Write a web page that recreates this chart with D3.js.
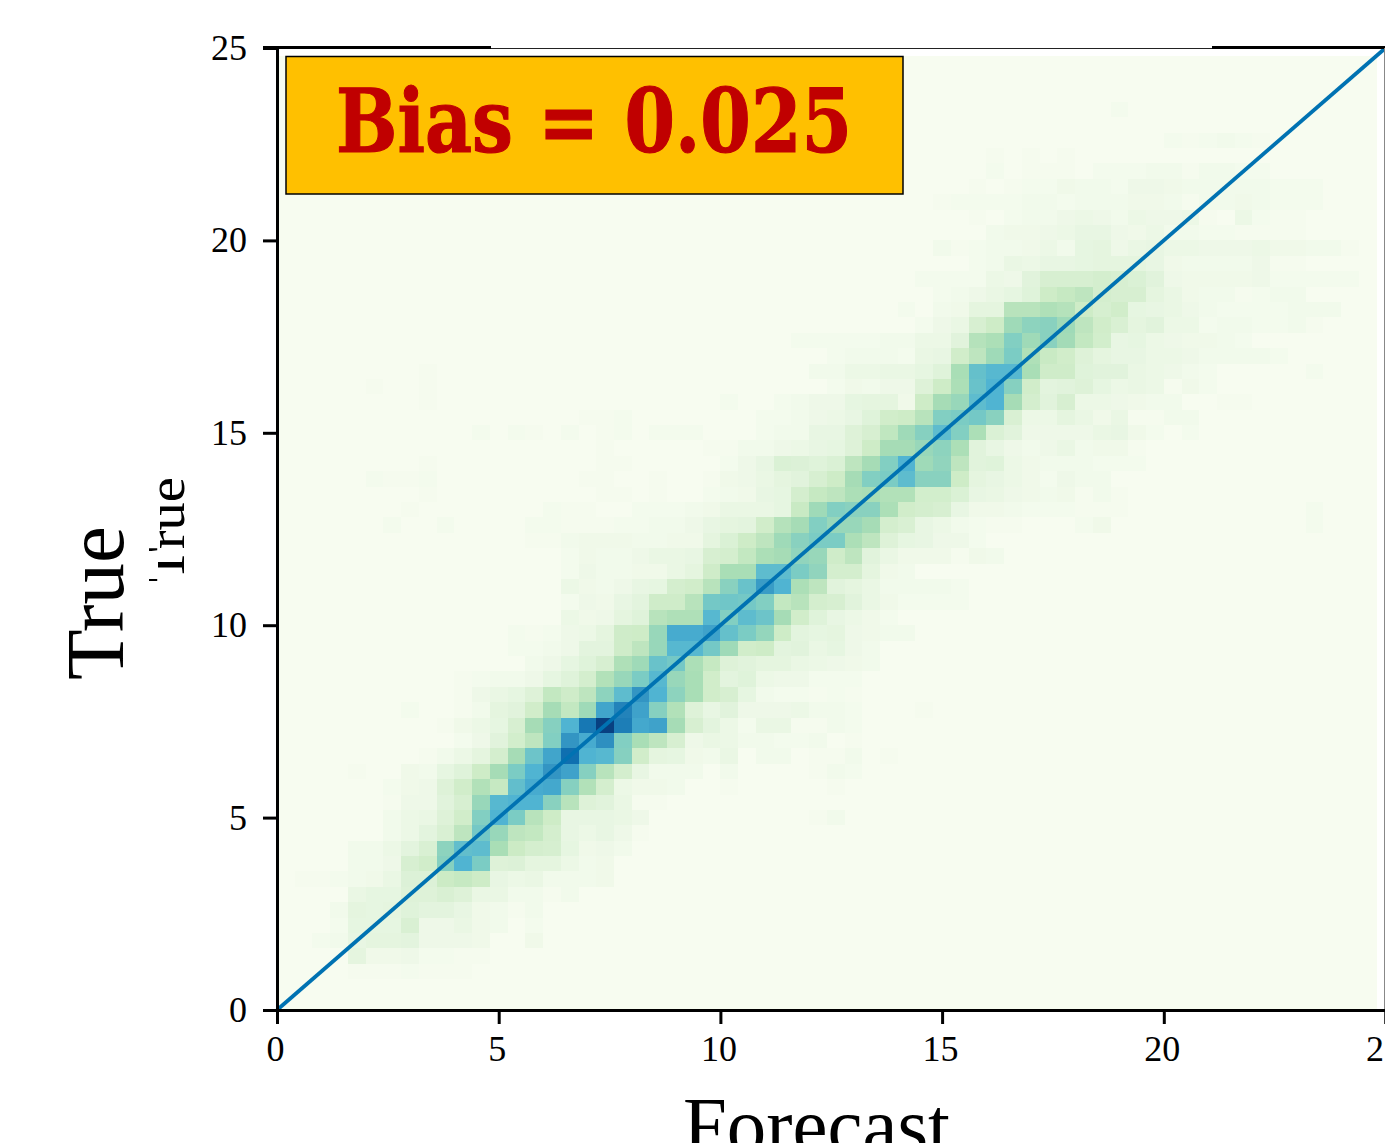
<!DOCTYPE html>
<html lang="en">
<head>
<meta charset="utf-8">
<title>Bias heatmap</title>
<script src="https://d3js.org/d3.v7.min.js"></script>
<style>
  body { margin: 0; background: #fff; }
  svg { display: block; }
  .tick text { font-family: "Liberation Serif", serif; font-size: 36px; fill: #000; }
  .label { font-family: "Liberation Serif", serif; fill: #000; }
  .bias { font-family: "DejaVu Serif"; font-weight: 700; fill: #c00000; stroke: #c00000; stroke-width: 1.2px; }
</style>
</head>
<body>
<div id="chart"></div>
<script>
const width = 1385, height = 1143
const tickValues = [0, 5, 10, 15, 20, 25]
const binSize = 0.4
const binCount = 62
const diagonal = [0, 25]
const biasText = "Bias = 0.025"
const xTitle = "Forecast"
const yTitle = "True"

// first filled column of each row, row 0 is the bottom one
const rowStart = [0,0,4,4,2,3,3,4,1,4,4,6,6,6,6,4,8,10,9,7,10,10,14,13,13,16,16,16,16,16,14,6,7,8,5,8,18,11,17,8,5,8,31,29,36,35,36,36,39,37,40,39,37,39,40,40,50,0,47,0,0,0]
// 0-100 along the colour map
const rowValues = [
  [],
  [],
  [1,1,1,2,1,1,1],
  [10,4,4,5,2,2,1,1],
  [2,3,8,10,10,11,5,5,5,4,0,0,4],
  [2,9,9,9,17,5,5,7,4,3,0,2],
  [3,10,9,10,13,11,11,8,4,3,1,3],
  [7,9,9,14,14,17,14,7,7,3,3,1,3],
  [1,1,2,3,4,7,15,15,25,27,24,8,6,7,3,3,3,4],
  [3,3,5,18,22,47,62,50,14,15,10,10,6,3,4],
  [3,3,6,11,17,45,57,58,37,25,20,19,9,4,5,3],
  [3,6,11,17,30,52,42,30,28,20,8,6,8,5,1],
  [3,6,7,14,22,48,62,50,32,24,8,8,8,7,5,0,0,0,0,0,0,0,0,0,1,3],
  [1,5,5,12,18,42,60,62,62,46,32,14,12,7,1,1],
  [2,4,5,14,22,34,27,57,65,66,47,34,20,6,4,4,3,0,0,1,0,0,0,0,0,1],
  [1,0,0,4,3,9,13,24,38,50,62,72,68,47,32,20,8,3,3,3,0,3,0,0,0,0,1,3,2],
  [1,3,6,10,20,38,54,67,85,62,60,47,22,10,9,4,3,7,0,3,3,0,1,1,3,0,1],
  [2,5,12,21,30,48,72,65,74,48,37,30,18,5,7,6,3,3,2,2,3,0,1],
  [1,4,6,9,18,38,47,62,82,100,80,66,68,38,18,11,6,2,7,7,1,1,3,2],
  [2,0,0,1,3,10,12,22,38,28,40,67,78,68,47,34,14,8,12,5,5,5,6,3,3,2,0,0,0,1],
  [1,5,7,9,14,28,23,30,45,58,72,62,45,37,22,18,9,3,2,2,1,2,1],
  [1,2,3,3,5,9,13,20,34,42,50,60,42,37,22,11,13,6,5,5,2,2,2],
  [3,5,9,13,18,35,40,55,52,36,27,14,12,10,10,7,6,5,4,3],
  [2,2,3,5,11,11,23,30,42,60,60,52,40,22,24,11,12,7,9,5,3],
  [2,1,2,5,6,10,23,24,42,65,65,68,56,50,43,24,11,9,10,5,4,3,3],
  [6,4,5,10,13,32,35,35,60,48,58,54,38,22,13,8,6,4,2],
  [2,5,4,8,11,23,23,32,52,53,52,48,28,32,20,18,12,7,4,2,2,2,2],
  [6,4,3,5,8,9,20,22,32,46,55,70,62,36,30,12,10,7,3,3,3,3,2],
  [2,5,3,3,4,4,7,10,23,37,37,58,58,50,44,20,20,10,4,3],
  [2,4,3,3,5,7,7,8,18,20,28,36,38,44,42,23,30,12,7,4,4,4,1,4,3],
  [1,1,3,4,4,4,3,3,4,4,10,16,24,30,40,46,50,50,36,30,14,9,8,5,5,2],
  [2,0,0,2,0,0,0,0,2,2,1,1,1,2,2,3,3,5,8,10,11,22,33,38,48,42,42,38,20,17,8,6,3,2,1,1,0,0,0,2,4,0,0,0,0,0,0,0,0,0,0,0,2],
  [1,0,0,0,0,0,0,0,2,1,1,0,0,2,2,2,3,4,7,7,7,9,26,40,48,46,46,36,22,20,18,8,4,4,3,2,2,2,1,1,1,0,0,0,0,0,0,0,0,0,0,2],
  [1,0,0,0,0,0,0,0,0,0,1,1,0,1,0,0,2,3,4,8,9,20,27,30,36,37,34,34,21,21,16,8,7,5,4,3,4,1,3,1],
  [2,1,1,2,0,0,0,0,0,0,0,0,1,1,0,0,1,0,0,1,4,5,7,10,12,18,24,38,48,50,58,46,46,24,10,8,6,4,2,5,3,3],
  [1,0,0,0,0,0,0,0,0,0,1,1,0,0,0,0,0,2,5,8,16,15,13,16,30,38,48,62,40,44,30,12,13,6,4,3,3,3,2,2,2],
  [1,0,0,0,0,0,1,1,3,3,5,6,8,9,14,24,38,38,42,45,36,12,8,5,3,5,7,3,4,4,1],
  [2,0,2,1,0,2,0,1,2,0,2,2,2,0,0,0,2,3,3,8,8,14,18,29,40,47,58,48,36,16,12,5,5,5,5,7,8,4,2,0,2],
  [1,1,2,0,0,0,0,0,0,0,2,2,3,5,6,8,13,22,24,32,48,50,52,46,17,6,6,10,7,4,7,1,1,3,3],
  [1,0,0,0,0,0,0,0,0,0,0,0,0,0,0,0,0,2,0,0,2,3,5,5,9,10,10,4,24,38,42,58,62,38,20,12,18,6,6,5,4,3,3,0,0,1,1],
  [1,0,0,1,0,0,0,0,0,0,0,0,0,0,0,0,0,0,0,0,0,0,0,0,0,0,2,4,3,5,5,14,24,36,55,62,47,22,11,12,14,9,6,7,6,1,4,2],
  [1,0,0,0,0,0,0,0,0,0,0,0,0,0,0,0,0,0,0,0,0,0,3,3,6,6,7,7,9,13,37,56,60,60,37,23,23,13,12,12,7,6,5,3,2,0,0,0,0,0,2],
  [2,3,3,3,2,7,8,22,30,40,50,35,26,22,14,10,8,8,6,6,5,3,3,3,3,2],
  [2,2,2,2,2,3,3,6,6,12,33,36,48,40,46,39,28,21,8,9,6,5,4,4,3,2],
  [2,5,7,18,24,40,45,46,40,30,22,17,10,12,6,6,2,3,3,2,2,3,1],
  [2,0,3,4,10,10,32,32,35,33,24,19,22,9,8,7,5,3,2,2,2,2,3,3,3],
  [0,2,3,5,7,9,13,24,27,30,20,18,18,10,7,4,3,3,1,2,3,3],
  [2,2,2,2,6,5,12,18,18,18,20,18,16,12,5,4,4,4,4,5,2,2,2,2,2],
  [2,3,7,6,8,8,9,10,10,10,8,4,3,3,3,3,5,1,1],
  [3,1,2,3,3,4,6,3,9,10,5,7,8,6,6,5,5,5,6,4,4,3,3,1],
  [3,4,4,5,6,8,8,5,4,6,3,3,2,2,1,1,1,1],
  [1,0,2,3,3,5,6,5,3,6,5,5,6,1,0,6,2,1,1],
  [1,2,2,2,2,3,3,2,3,3,3,4,4,3,1,3,3,4,3,2,2,2],
  [1,0,1,2,2,4,3,3,2,5,5,4,3,3,3,3,3,2,2,2],
  [2,0,1,1,1,0,2,2,2,3,3,1,3,3,2,2],
  [1,0,1,0,1],
  [2,1,2,3,2,1],
  [],
  [2],
  [],
  [],
  []
]

const x = d3.scaleLinear().domain([0, 25]).range([277, 1385.5])
const y = d3.scaleLinear().domain([0, 25]).range([1010, 48])

// matplotlib GnBu has the same nine stops, joined linearly
const color = d3.scaleLinear()
  .domain(d3.range(9).map(i => i * 12.5))
  .range(d3.schemeGnBu[9])

const svg = d3.select("#chart").append("svg")
  .attr("width", width)
  .attr("height", height)

const cells = []
d3.range(binCount).forEach(row => {
  d3.range(binCount).forEach(col => {
    const v = rowValues[row][col - rowStart[row]] || 0
    cells.push({ row, col, v })
  })
})

svg.append("g")
  .attr("shape-rendering", "crispEdges")
  .selectAll("rect")
  .data(cells)
  .join("rect")
  .attr("x", d => x(d.col * binSize))
  .attr("y", d => y((d.row + 1) * binSize))
  .attr("width", d => x((d.col + 1) * binSize) - x(d.col * binSize))
  .attr("height", d => y(d.row * binSize) - y((d.row + 1) * binSize))
  .attr("fill", d => color(d.v))

svg.append("line")
  .attr("x1", x(diagonal[0])).attr("y1", y(diagonal[0]))
  .attr("x2", x(diagonal[1])).attr("y2", y(diagonal[1]))
  .attr("stroke", "#0072b2")
  .attr("stroke-width", 3.8)

// top spine: heavy at both ends, hairline between, right spine is grey
svg.append("line").attr("x1", 491).attr("x2", 1212).attr("y1", 48.5).attr("y2", 48.5)
  .attr("stroke", "#222").attr("stroke-width", 1)
svg.append("line").attr("x1", 263).attr("x2", 491).attr("y1", 47.5).attr("y2", 47.5)
  .attr("stroke", "#000").attr("stroke-width", 3)
svg.append("line").attr("x1", 1212).attr("x2", 1385).attr("y1", 47.5).attr("y2", 47.5)
  .attr("stroke", "#000").attr("stroke-width", 3)
svg.append("line").attr("x1", 1384.5).attr("x2", 1384.5).attr("y1", 48).attr("y2", 1010)
  .attr("stroke", "#888").attr("stroke-width", 1)

const xAxis = svg.append("g")
  .attr("transform", "translate(0,1010)")
  .call(d3.axisBottom(x).tickValues(tickValues).tickSize(14).tickPadding(11).tickFormat(d3.format("d")))
const yAxis = svg.append("g")
  .attr("transform", "translate(277,0)")
  .call(d3.axisLeft(y).tickValues(tickValues).tickSize(14).tickPadding(16).tickFormat(d3.format("d")))
;[xAxis, yAxis].forEach(a => {
  a.selectAll("path").attr("stroke", "#000").attr("stroke-width", 3)
  a.selectAll("line").attr("stroke", "#000").attr("stroke-width", 3)
  a.selectAll("text").attr("font-family", null).attr("font-size", null)
})
xAxis.selectAll("text").attr("dx", -2)

svg.append("text").attr("class", "label")
  .attr("x", 683).attr("y", 1153)
  .attr("font-size", 80)
  .attr("textLength", 267).attr("lengthAdjust", "spacingAndGlyphs")
  .text(xTitle)

svg.append("text").attr("class", "label")
  .attr("transform", "translate(123,680) rotate(-90)")
  .attr("font-size", 83)
  .text(yTitle)

// the second, smaller title sits behind a white patch that hides the bar of its T
svg.append("text").attr("class", "label")
  .attr("transform", "translate(184,582) rotate(-90)")
  .attr("font-size", 52)
  .attr("textLength", 105).attr("lengthAdjust", "spacingAndGlyphs")
  .text(yTitle)
svg.append("rect")
  .attr("x", 148).attr("y", 551)
  .attr("width", 10).attr("height", 28)
  .attr("fill", "#fff")

svg.append("rect")
  .attr("x", 286).attr("y", 56.5)
  .attr("width", 617).attr("height", 137.5)
  .attr("fill", "#ffc000")
  .attr("stroke", "#000")
  .attr("stroke-width", 1.5)

svg.append("text").attr("class", "bias")
  .attr("x", 336).attr("y", 152)
  .attr("font-size", 88)
  .attr("textLength", 516).attr("lengthAdjust", "spacingAndGlyphs")
  .text(biasText)
</script>
</body>
</html>
